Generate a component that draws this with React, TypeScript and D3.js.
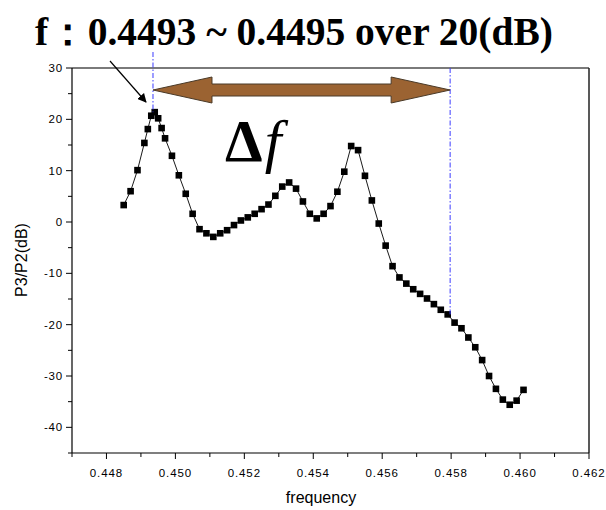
import React from "react";
import * as d3 from "d3";

const freq = [
  0.4485, 0.4487, 0.4489, 0.4491, 0.4492, 0.4493, 0.4494, 0.4495, 0.4496, 0.4497,
  0.4499, 0.4501, 0.4503, 0.4505, 0.4507, 0.4509, 0.4511, 0.4513, 0.4515, 0.4517,
  0.4519, 0.4521, 0.4523, 0.4525, 0.4527, 0.4529, 0.4531, 0.4533, 0.4535, 0.4537,
  0.4539, 0.4541, 0.4543, 0.4545, 0.4547, 0.4549, 0.4551, 0.4553, 0.4555, 0.4557,
  0.4559, 0.4561, 0.4563, 0.4565, 0.4567, 0.4569, 0.4571, 0.4573, 0.4575, 0.4577,
  0.4579, 0.4581, 0.4583, 0.4585, 0.4587, 0.4589, 0.4591, 0.4593, 0.4595, 0.4597,
  0.4599, 0.4601,
];
const ratioDb = [
  3.3, 6.0, 10.1, 15.4, 18.1, 20.7, 21.4, 20.2, 18.3, 16.3,
  12.9, 9.1, 5.5, 1.6, -1.4, -2.2, -2.9, -2.2, -1.6, -0.6,
  0.3, 0.9, 1.6, 2.5, 3.4, 5.1, 6.9, 7.7, 6.5, 4.0,
  1.6, 0.7, 1.6, 3.1, 5.9, 9.8, 14.8, 14.0, 9.0, 4.2,
  -0.3, -4.6, -8.6, -10.8, -12.0, -13.1, -14.0, -14.9, -16.0, -17.1,
  -18.0, -19.6, -20.7, -22.5, -24.4, -26.9, -30.0, -32.5, -34.6, -35.6,
  -34.8, -32.7,
];
const xMajorTicks = [0.448, 0.45, 0.452, 0.454, 0.456, 0.458, 0.46, 0.462];
const xMinorTicks = [0.447, 0.449, 0.451, 0.453, 0.455, 0.457, 0.459, 0.461];
const yMajorTicks = [30, 20, 10, 0, -10, -20, -30, -40];
const yMinorTicks = [25, 15, 5, -5, -15, -25, -35, -45];
const xDomain = [0.447, 0.462];
const yDomain = [-45, 30];
const bandStart = 0.44935;
const bandEnd = 0.458;
const titleText = "f\uFF1A0.4493 ~ 0.4495 over 20(dB)";

export default function App() {
  const W = 606, H = 510;
  const L = 72, R = 589, T = 68, B = 453;
  const x = d3.scaleLinear().domain(xDomain).range([L, R]);
  const y = d3.scaleLinear().domain(yDomain).range([B, T]);
  const line = d3
    .line<number>()
    .x((_, i) => x(freq[i]))
    .y((d) => y(d));
  const ms = 6.6;
  const sans = "'Liberation Sans', Arial, sans-serif";
  const serif = "'Liberation Serif', 'Times New Roman', serif";

  const x1 = x(bandStart);
  const x2 = x(bandEnd) - 1;
  const ay = 90;
  const headLen = 59;
  const shaftH = 6;
  const headH = 13;
  const arrowPts = [
    [x1, ay],
    [x1 + headLen, ay - headH],
    [x1 + headLen, ay - shaftH],
    [x2 - headLen, ay - shaftH],
    [x2 - headLen, ay - headH],
    [x2, ay],
    [x2 - headLen, ay + headH],
    [x2 - headLen, ay + shaftH],
    [x1 + headLen, ay + shaftH],
    [x1 + headLen, ay + headH],
  ]
    .map((p) => p.join(","))
    .join(" ");

  return (
    <svg
      width={W}
      height={H}
      style={{ position: "absolute", left: 0, top: 0, background: "#fff" }}
    >
      <defs>
        <marker
          id="ah"
          viewBox="0 0 10 10"
          refX="9"
          refY="5"
          markerWidth="9"
          markerHeight="9"
          orient="auto"
          markerUnits="userSpaceOnUse"
        >
          <path d="M0,0 L10,5 L0,10 z" fill="#000" />
        </marker>
      </defs>
      <rect x={0} y={0} width={W} height={H} fill="#fff" />

      {/* frame */}
      <line x1={L} x2={R} y1={T} y2={T} stroke="#7a7a7a" strokeWidth={2} />
      <line x1={R} x2={R} y1={T} y2={B} stroke="#222" strokeWidth={1.5} />
      <line x1={L} x2={L} y1={T} y2={B} stroke="#000" strokeWidth={1.2} />
      <line x1={L} x2={R} y1={B} y2={B} stroke="#000" strokeWidth={1.2} />

      {/* y ticks */}
      {yMajorTicks.map((t) => (
        <g key={"ym" + t}>
          <line x1={L - 6} x2={L} y1={y(t)} y2={y(t)} stroke="#000" />
          <text
            x={L - 9}
            y={y(t) + 4}
            textAnchor="end"
            fontFamily={sans}
            fontSize={11.5}
            letterSpacing={0.8}
            fill="#000"
          >
            {t < 0 ? "-" + Math.abs(t) : String(t)}
          </text>
        </g>
      ))}
      {yMinorTicks.map((t) => (
        <line key={"yn" + t} x1={L - 4} x2={L} y1={y(t)} y2={y(t)} stroke="#000" />
      ))}
      {/* x ticks */}
      {xMajorTicks.map((t) => (
        <g key={"xm" + t}>
          <line x1={x(t)} x2={x(t)} y1={B} y2={B + 6} stroke="#000" />
          <text
            x={x(t)}
            y={B + 24}
            textAnchor="middle"
            fontFamily={sans}
            fontSize={11.5}
            letterSpacing={0.9}
            fill="#000"
          >
            {d3.format(".3f")(t)}
          </text>
        </g>
      ))}
      {xMinorTicks.map((t) => (
        <line key={"xn" + t} x1={x(t)} x2={x(t)} y1={B} y2={B + 4} stroke="#000" />
      ))}

      {/* axis titles */}
      <text
        x={321}
        y={503}
        textAnchor="middle"
        fontFamily={sans}
        fontSize={16}
        fill="#000"
      >
        frequency
      </text>
      <text
        transform="translate(27,260) rotate(-90)"
        textAnchor="middle"
        fontFamily={sans}
        fontSize={16}
        fill="#000"
      >
        P3/P2(dB)
      </text>

      {/* data */}
      <path d={line(ratioDb) || ""} fill="none" stroke="#000" strokeWidth={0.9} />
      {ratioDb.map((v, i) => (
        <rect
          key={i}
          x={x(freq[i]) - ms / 2}
          y={y(v) - ms / 2}
          width={ms}
          height={ms}
          fill="#000"
        />
      ))}

      {/* annotations */}
      <line
        x1={x1}
        x2={x1}
        y1={52}
        y2={y(ratioDb[6])}
        stroke="#3b3bff"
        strokeWidth={1}
        strokeDasharray="5,2,1.5,2"
      />
      <line
        x1={x2}
        x2={x2}
        y1={T}
        y2={y(-18)}
        stroke="#3b3bff"
        strokeWidth={1}
        strokeDasharray="5,2,1.5,2"
      />
      <polygon points={arrowPts} fill="#9b6332" stroke="#4a3a28" strokeWidth={1} />
      <line
        x1={110}
        y1={61}
        x2={146}
        y2={102}
        stroke="#000"
        strokeWidth={1.2}
        markerEnd="url(#ah)"
      />
      <text x={225} y={161} fontFamily={serif} fontSize={60} fill="#000">
        <tspan fontWeight="bold">Δ</tspan>
        <tspan fontStyle="italic" dx={2}>f</tspan>
      </text>
      <text
        x={35}
        y={45}
        fontFamily={serif}
        fontWeight="bold"
        fontSize={39}
        textLength={518}
        lengthAdjust="spacingAndGlyphs"
        fill="#000"
      >
        {titleText}
      </text>
    </svg>
  );
}
